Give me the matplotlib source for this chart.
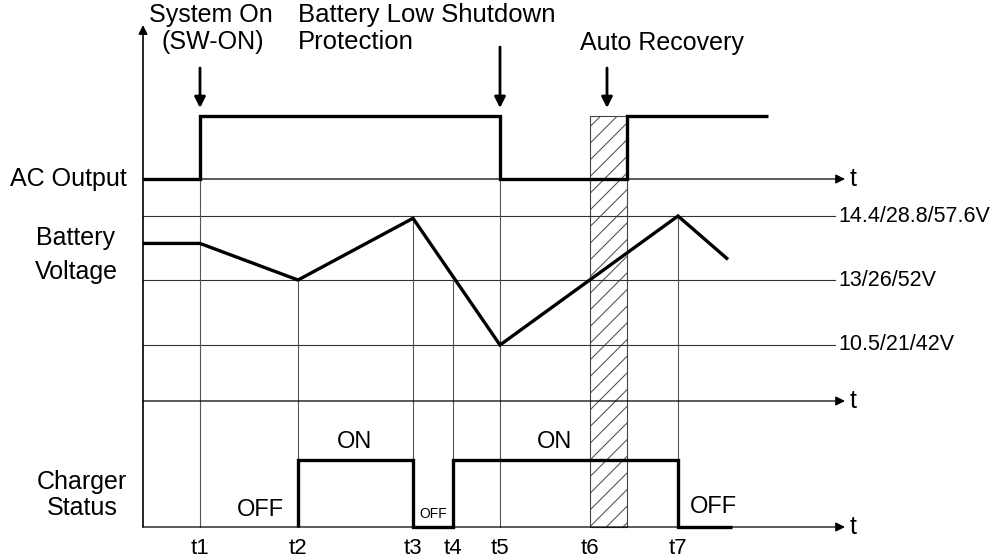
import numpy as np
import matplotlib
matplotlib.use("Agg")
import matplotlib.pyplot as plt
from matplotlib.patches import Rectangle

plt.rcParams['font.family'] = ['Liberation Sans', 'DejaVu Sans']
plt.rcParams['hatch.linewidth'] = 0.7

# ---------------- data ----------------
event_labels = ["t1", "t2", "t3", "t4", "t5", "t6", "t7"]
event_times = [200, 298, 413, 453, 500, 590, 678]      # time positions of events
t_start = 143                                            # time origin (y-axis)
t_axis_end = 845
recovery_window = (590, 627)                             # auto-recovery hatched window

# AC output (0 = off, 1 = on)
ac_times = [143, 200, 200, 500, 500, 627, 627, 768]
ac_state = [0, 0, 1, 1, 0, 0, 1, 1]

# Battery voltage (12 V system values)
volt_levels = [14.4, 13.0, 10.5]
volt_level_labels = ["14.4/28.8/57.6V", "13/26/52V", "10.5/21/42V"]
volt_times = [143, 200, 298, 413, 500, 678, 728]
volt_values = [13.8, 13.8, 13.0, 14.35, 10.5, 14.4, 13.45]

# Charger status (0 = off, 1 = on)
chg_times = [298, 298, 413, 413, 453, 453, 678, 678, 732]
chg_state = [0, 1, 1, 0, 0, 1, 1, 0, 0]

# ---------------- layout (pixel rows) ----------------
ac_base, ac_high = 179, 116
volt_px = [216, 280, 345]          # rows for 14.4, 13, 10.5
mid_axis = 401
chg_base, chg_high = 527, 460

def ac_y(s):
    return ac_base - np.asarray(s) * (ac_base - ac_high)

def chg_y(s):
    return chg_base - np.asarray(s) * (chg_base - chg_high)

def volt_y(v):
    return np.interp(v, volt_levels[::-1], volt_px[::-1])

fig = plt.figure(figsize=(10, 5.6), dpi=100)
ax = fig.add_axes([0, 0, 1, 1])
ax.set_xlim(0, 1000)
ax.set_ylim(560, 0)
ax.axis('off')

FS = 18
thin = dict(color='#333333', lw=0.8)
guide = dict(color='#555555', lw=0.8)
thick = dict(color='black', lw=2.4, solid_joinstyle='miter', solid_capstyle='butt')

# hatched recovery window
ax.add_patch(Rectangle((recovery_window[0], ac_high), recovery_window[1] - recovery_window[0],
                       chg_base - ac_high, facecolor='none', edgecolor='#444444',
                       hatch='//', lw=0.8, zorder=1))

# horizontal voltage reference lines
for py, lab in zip(volt_px, volt_level_labels):
    ax.plot([t_start, 835], [py, py], **thin, zorder=2)
    ax.text(838, py, lab, fontsize=15.5, va='center', ha='left')

# guide lines at events
vt = dict(zip(volt_times, volt_values))
guide_tops = {
    "t1": ac_high,
    "t2": float(volt_y(vt[298])),
    "t3": float(volt_y(vt[413])),
    "t4": volt_px[1],
    "t5": ac_high,
    "t7": float(volt_y(vt[678])),
}
for lab, tx in zip(event_labels, event_times):
    if lab in guide_tops:
        ax.plot([tx, tx], [guide_tops[lab], chg_base], **guide, zorder=2)
    ax.text(tx, 549, lab, fontsize=16, ha='center', va='center')

# axes with arrows
arrow_kw = dict(arrowstyle='-|>', color='black', lw=0.9, mutation_scale=14,
                shrinkA=0, shrinkB=0)
for yy in (ac_base, mid_axis, chg_base):
    ax.annotate('', xy=(t_axis_end, yy), xytext=(t_start, yy), arrowprops=arrow_kw, zorder=3)
    ax.text(850, yy, 't', fontsize=FS, va='center', ha='left')
ax.annotate('', xy=(t_start, 25), xytext=(t_start, chg_base),
            arrowprops=dict(arrowstyle='-|>', color='black', lw=1.2, mutation_scale=13,
                            shrinkA=0, shrinkB=0), zorder=3)

# traces
ax.plot(ac_times, ac_y(ac_state), **thick, zorder=4)
ax.plot(volt_times, volt_y(volt_values), **thick, zorder=4)
ax.plot(chg_times, chg_y(chg_state), **thick, zorder=4)

# event arrows
ev_kw = dict(arrowstyle='-|>', color='black', lw=2.0, mutation_scale=16, shrinkA=0, shrinkB=0)
ax.annotate('', xy=(200, 108), xytext=(200, 68), arrowprops=ev_kw)
ax.annotate('', xy=(500, 108), xytext=(500, 47), arrowprops=ev_kw)
ax.annotate('', xy=(607, 108), xytext=(607, 68), arrowprops=ev_kw)

# annotations
ax.text(211, 15, "System On", fontsize=FS, ha='center', va='center')
ax.text(213, 42, "(SW-ON)", fontsize=FS, ha='center', va='center')
ax.text(298, 15, "Battery Low Shutdown", fontsize=18.5, ha='left', va='center')
ax.text(298, 42, "Protection", fontsize=18.5, ha='left', va='center')
ax.text(662, 43, "Auto Recovery", fontsize=FS, ha='center', va='center')

# row labels
ax.text(10, 179, "AC Output", fontsize=FS, ha='left', va='center')
ax.text(76, 238, "Battery", fontsize=FS, ha='center', va='center')
ax.text(76, 272, "Voltage", fontsize=FS, ha='center', va='center')
ax.text(82, 482, "Charger", fontsize=FS, ha='center', va='center')
ax.text(82, 508, "Status", fontsize=FS, ha='center', va='center')

# charger state labels
ax.text(355, 442, "ON", fontsize=17, ha='center', va='center')
ax.text(555, 442, "ON", fontsize=17, ha='center', va='center')
ax.text(260, 510, "OFF", fontsize=17, ha='center', va='center')
ax.text(713, 507, "OFF", fontsize=17, ha='center', va='center')
ax.text(433, 514, "OFF", fontsize=10, ha='center', va='center')

fig.savefig("out.png", dpi=100)
